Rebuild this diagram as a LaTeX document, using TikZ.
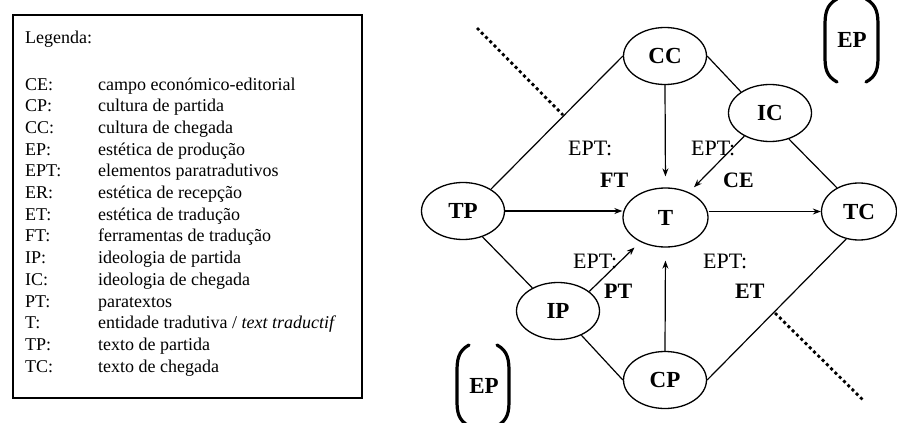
\documentclass[tikz,border=0pt]{standalone}
\usepackage{fontspec}
\setmainfont{Liberation Serif}
\usetikzlibrary{shapes.geometric,arrows.meta}

\begin{document}
\begin{tikzpicture}[x=1pt,y=-1pt,
  ent/.style={ellipse,draw,line width=1.3pt,minimum width=83pt,minimum height=57pt,
    inner sep=0pt,font=\fontsize{23}{23}\selectfont\bfseries},
  link/.style={line width=1.2pt},
  arr/.style={line width=1.2pt,-{Stealth[length=8pt,width=6pt]}},
  lbl/.style={anchor=base west,inner sep=0pt,font=\fontsize{22}{22}\selectfont},
  blbl/.style={anchor=base west,inner sep=0pt,font=\fontsize{22}{22}\selectfont\bfseries},
  cut/.style={line width=2.8pt,dash pattern=on 3pt off 3pt},
  paren/.style={line width=3.2pt,line cap=round},
  legab/.style={anchor=base west,inner sep=0pt,font=\fontsize{18}{21}\selectfont},
  legtx/.style={legab}
]
\useasboundingbox (0,0) rectangle (897,423);

% ---- legend box ----
\draw[line width=2pt] (13,15) rectangle (362,398);
\node[legab] (legtitle) at (25,43) {Legenda:};
\node[legab] (aCE)  at (25,90.0)  {CE:};  \node[legtx] (dCE)  at (98,90.0)  {campo económico-editorial};
\node[legab] (aCP)  at (25,111.7) {CP:};  \node[legtx] (dCP)  at (98,111.7) {cultura de partida};
\node[legab] (aCC)  at (25,133.4) {CC:};  \node[legtx] (dCC)  at (98,133.4) {cultura de chegada};
\node[legab] (aEP)  at (25,155.1) {EP:};  \node[legtx] (dEP)  at (98,155.1) {estética de produção};
\node[legab] (aEPT) at (25,176.8) {EPT:}; \node[legtx] (dEPT) at (98,176.8) {elementos paratradutivos};
\node[legab] (aER)  at (25,198.5) {ER:};  \node[legtx] (dER)  at (98,198.5) {estética de recepção};
\node[legab] (aET)  at (25,220.2) {ET:};  \node[legtx] (dET)  at (98,220.2) {estética de tradução};
\node[legab] (aFT)  at (25,241.9) {FT:};  \node[legtx] (dFT)  at (98,241.9) {ferramentas de tradução};
\node[legab] (aIP)  at (25,263.6) {IP:};  \node[legtx] (dIP)  at (98,263.6) {ideologia de partida};
\node[legab] (aIC)  at (25,285.3) {IC:};  \node[legtx] (dIC)  at (98,285.3) {ideologia de chegada};
\node[legab] (aPT)  at (25,307.0) {PT:};  \node[legtx] (dPT)  at (98,307.0) {paratextos};
\node[legab] (aT)   at (25,328.7) {T:};   \node[legtx] (dT)   at (98,328.7) {entidade tradutiva / \textit{text traductif}};
\node[legab] (aTP)  at (25,350.4) {TP:};  \node[legtx] (dTP)  at (98,350.4) {texto de partida};
\node[legab] (aTC)  at (25,372.1) {TC:};  \node[legtx] (dTC)  at (98,372.1) {texto de chegada};

% ---- dotted boundary lines ----
\draw[cut] (477,28) -- (563,115);
\draw[cut] (775,313) -- (863,400);

% ---- entities ----
\node[ent] (CC) at (665,56)  {CC};
\node[ent] (IC) at (770,113) {IC};
\node[ent] (TP) at (463,211) {TP};
\node[ent,minimum width=85pt,minimum height=59pt] (T) at (665.5,217.5) {T};
\node[ent,minimum width=75pt] (TC) at (859,211.5) {TC};
\node[ent] (IP) at (558,311) {IP};
\node[ent] (CP) at (665,380) {CP};

% ---- outer links ----
\draw[link] (TP.38) -- (CC.west);
\draw[link] (CC.east) -- (IC.144);
\draw[link] (IC.-54) -- (TC.133);
\draw[link] (TP.-53) -- (IP.138);
\draw[link] (IP.-46) -- (CP.west);
\draw[link] (CP.east) -- (TC.-115);

% ---- arrows into and out of T ----
\draw[arr] (TP.east) -- (TP.east -| T.west);
\draw[arr] (TC.west -| T.east) -- (TC.west);
\draw[arr,shorten >=11pt] (CC.south) -- (T.north);
\draw[arr,shorten >=13pt] (CP.north) -- (T.south);
\draw[arr,shorten >=7pt] (IC.-138) -- (T.47);
\draw[arr,shorten >=8pt] (IP.32) -- (T.-136);

% ---- paratranslation labels ----
\node[lbl]  (eptFT) at (568,155) {EPT:};
\node[blbl] (FT)    at (600,187) {FT};
\node[lbl]  (eptCE) at (691,155) {EPT:};
\node[blbl] (CE)    at (723,187) {CE};
\node[lbl]  (eptPT) at (573,268) {EPT:};
\node[blbl] (PT)    at (604,298) {PT};
\node[lbl]  (eptET) at (703,268) {EPT:};
\node[blbl] (ET)    at (735,298) {ET};

% ---- production aesthetics brackets ----
\draw[paren] (837,-1) .. controls (826,5) and (825,14) .. (825,26) -- (825,56)
  .. controls (825,68) and (826,76) .. (837,82);
\draw[paren] (866,-1) .. controls (877,5) and (878,14) .. (878,26) -- (878,56)
  .. controls (878,68) and (877,76) .. (866,82);
\node[font=\fontsize{23}{23}\selectfont\bfseries,inner sep=0pt] (EPtop) at (852,40) {EP};

\draw[paren] (469,345) .. controls (458,351) and (457,360) .. (457,372) -- (457,400)
  .. controls (457,412) and (458,420) .. (469,426);
\draw[paren] (497,345) .. controls (508,351) and (509,360) .. (509,372) -- (509,400)
  .. controls (509,412) and (508,420) .. (497,426);
\node[font=\fontsize{23}{23}\selectfont\bfseries,inner sep=0pt] (EPbot) at (484,386) {EP};
\end{tikzpicture}
\end{document}
